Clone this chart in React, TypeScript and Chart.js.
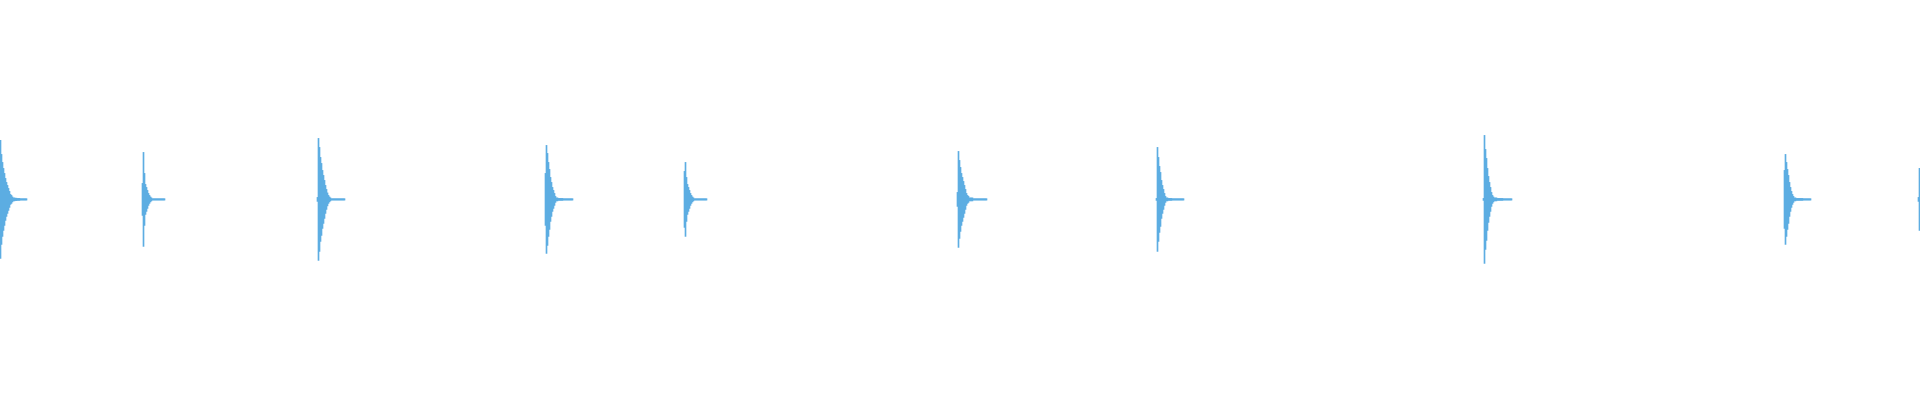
import React, { useEffect, useRef } from "react";
import { Chart, registerables } from "chart.js";

Chart.register(...registerables);

// Waveform peaks, one value per pixel column, in % of half height.
// Each burst starts at the column given in onsets.
const onsets = [0, 142, 317, 545, 684, 957, 1156, 1483, 1784, 1918];

const burst1 = [29.5, 22.5, 18.5, 15.5, 13, 10.5, 8.5, 7, 5.5, 4, 2.5, 2, 1.25, 0.75, 0.75, 0.6, 0.6, 0.5, 0.5, 0.5, 0.35, 0.35, 0.35, 0.35, 0.35, 0.35, 0.35];
const burst2 = [8, 23.5, 13, 7.5, 6, 4.5, 3, 2, 1.25, 0.75, 0.35, 0.35, 0.35, 0.35, 0.35, 0.35, 0.35, 0.35, 0.35, 0.35, 0.35, 0.35, 0.35];
const burst3 = [1, 30.5, 26, 21, 18, 14.5, 12, 9.5, 7, 5, 3.25, 2, 1.25, 0.75, 0.35, 0.35, 0.35, 0.35, 0.35, 0.35, 0.35, 0.35, 0.35, 0.35, 0.35, 0.35, 0.35, 0.35];
const burst4 = [13, 27, 23, 18.5, 15, 11, 8.5, 6, 4.5, 3, 1.5, 0.75, 0.75, 0.5, 0.5, 0.5, 0.5, 0.5, 0.35, 0.35, 0.35, 0.35, 0.35, 0.35, 0.35, 0.35, 0.35, 0.35];
const burst5 = [14, 18.5, 11, 7.5, 6, 4.5, 3, 2, 1.25, 0.75, 0.35, 0.35, 0.35, 0.35, 0.35, 0.35, 0.35, 0.35, 0.35, 0.35, 0.35, 0.35, 0.35];
const burst6 = [3.5, 24, 19.5, 16, 13, 11, 9, 7, 5, 3, 2, 1.5, 0.75, 0.75, 0.75, 0.75, 0.35, 0.35, 0.35, 0.35, 0.35, 0.35, 0.35, 0.35, 0.35, 0.35, 0.35, 0.35, 0.35, 0.35];
const burst7 = [0.5, 26, 21, 16.5, 13.5, 9.5, 7, 5, 3, 1.5, 0.75, 0.75, 0.5, 0.5, 0.5, 0.5, 0.35, 0.35, 0.35, 0.35, 0.35, 0.35, 0.35, 0.35, 0.35, 0.35, 0.35, 0.35];
const burst8 = [0.5, 32, 25, 20.5, 15.5, 11.5, 8.5, 6, 3.5, 2, 1.25, 0.75, 0.75, 0.75, 0.5, 0.5, 0.5, 0.5, 0.5, 0.5, 0.35, 0.35, 0.35, 0.35, 0.35, 0.35, 0.35, 0.35, 0.35];
const burst9 = [14.5, 22.5, 18.5, 15, 12, 8.5, 6, 4, 2.5, 1.5, 0.75, 0.75, 0.5, 0.5, 0.5, 0.5, 0.5, 0.5, 0.5, 0.35, 0.35, 0.35, 0.35, 0.35, 0.35, 0.35, 0.35];
const burst10 = [1, 15.5];

const bursts = [burst1, burst2, burst3, burst4, burst5, burst6, burst7, burst8, burst9, burst10];

const WaveformChart: React.FC = () => {
  const canvasRef = useRef<HTMLCanvasElement | null>(null);
  const chartRef = useRef<Chart | null>(null);

  useEffect(() => {
    if (chartRef.current) {
      chartRef.current.destroy();
    }

    // floating bars, symmetric around zero
    const points: { x: number; y: [number, number] }[] = [];
    bursts.forEach((burst, b) => {
      burst.forEach((amp, i) => {
        points.push({ x: onsets[b] + i, y: [-amp, amp] });
      });
    });

    if (canvasRef.current) {
      chartRef.current = new Chart(canvasRef.current, {
        type: "bar",
        data: {
          datasets: [
            {
              data: points as any,
              backgroundColor: "#5DADE2",
              borderWidth: 0,
              borderSkipped: false,
              categoryPercentage: 1,
              barPercentage: 1,
            },
          ],
        },
        options: {
          animation: false,
          responsive: true,
          maintainAspectRatio: false,
          layout: { padding: 0 },
          scales: {
            x: { type: "linear", display: false, offset: false, min: -0.5, max: 1919.5 },
            y: { display: false, min: -100.3, max: 99.7 },
          },
          plugins: {
            legend: { display: false },
            tooltip: { enabled: false },
          },
        },
      });
    }

    return () => {
      if (chartRef.current) {
        chartRef.current.destroy();
        chartRef.current = null;
      }
    };
  }, []);

  return (
    <div style={{ position: "fixed", left: 0, top: 0, width: 1920, height: 400, background: "#fff" }}>
      <canvas ref={canvasRef} />
    </div>
  );
};

export default function App() {
  return <WaveformChart />;
}
